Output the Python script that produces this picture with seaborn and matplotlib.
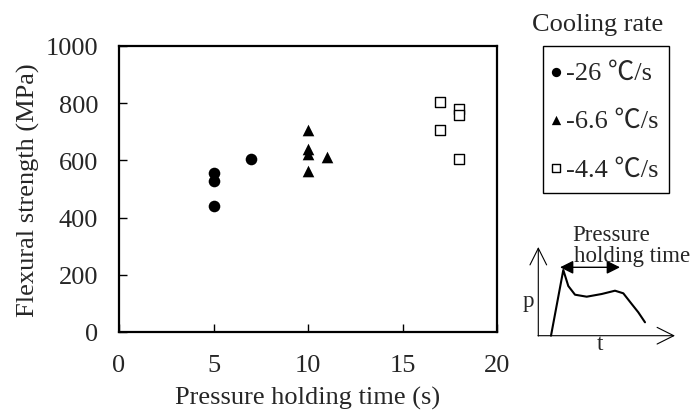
import numpy as np
import pandas as pd
import matplotlib
matplotlib.use("Agg")
import matplotlib.pyplot as plt
from matplotlib.patches import Rectangle
import seaborn as sns

# 데이터
rates = ["-26 ℃/s", "-6.6 ℃/s", "-4.4 ℃/s"]
time_26 = [5, 5, 5, 7]
str_26 = [555, 528, 441, 606]
time_66 = [10, 10, 10, 10, 11]
str_66 = [705, 641, 621, 563, 612]
time_44 = [17, 17, 18, 18, 18]
str_44 = [805, 706, 778, 758, 606]
xticks = [0, 5, 10, 15, 20]
yticks = [0, 200, 400, 600, 800, 1000]

# 압력 곡선 모식도 (픽셀 좌표)
curve_x = [551, 563.3, 568.3, 575, 586.7, 601.7, 615, 623.3, 631.7, 638.3, 645]
curve_y = [336.7, 271, 287, 295.7, 297.7, 295, 291.7, 294.3, 305, 313.3, 323.3]

sns.set_style("ticks")
plt.rcParams['font.family'] = ['Liberation Serif', 'Noto Sans CJK JP', 'DejaVu Serif']

W, H = 692, 414
fig = plt.figure(figsize=(W/100, H/100), dpi=100)
ax = fig.add_axes([119/W, 81/H, 378/W, 286/H])

sns.scatterplot(x=time_26, y=str_26, marker='o', s=70, color='black',
                edgecolor='black', linewidth=0, label=rates[0], ax=ax)
sns.scatterplot(x=time_66, y=str_66, marker='^', s=70, color='black',
                edgecolor='black', linewidth=0, label=rates[1], ax=ax)
sns.scatterplot(x=time_44, y=str_44, marker='s', s=45, facecolor='white',
                edgecolor='black', linewidth=1, label=rates[2], ax=ax)

ax.set_xlim(0, 20)
ax.set_ylim(0, 1000)
ax.set_xticks(xticks)
ax.set_yticks(yticks)
ax.tick_params(direction='in', length=6, width=1, labelsize=19, color='black')
ax.tick_params(axis='x', pad=16)
ax.tick_params(axis='y', pad=15)
for sp in ax.spines.values():
    sp.set_visible(True)
    sp.set_linewidth(1.6)
    sp.set_color('black')
ax.set_xlabel('Pressure holding time (s)', fontsize=19, labelpad=7)
ax.set_ylabel('Flexural strength (MPa)', fontsize=19, labelpad=4)

# 범례
fig.text(598/W, 1-25/H, 'Cooling rate', fontsize=19, ha='center', va='center')
leg = ax.legend(loc='upper left', bbox_to_anchor=(537.3/W, 1-49.5/H),
                bbox_transform=fig.transFigure, fontsize=19, frameon=False,
                borderaxespad=0, borderpad=0.45, handlelength=0.5,
                handletextpad=0.15, labelspacing=0.94, markerscale=0.8)
fig.add_artist(Rectangle((542.7/W, 1-194/H), (668.5-542.7)/W, (194-46.7)/H,
                         transform=fig.transFigure, fill=False, lw=1,
                         ec='black'))

# 모식도
ins = fig.add_axes([520/W, 0, 172/W, 1])
ins.set_xlim(520, 692)
ins.set_ylim(H, 0)
ins.axis('off')
ins.annotate('', xy=(538.3, 248), xytext=(538.3, 337),
             arrowprops=dict(arrowstyle='->', lw=0.8, color='black',
                             mutation_scale=30, shrinkA=0, shrinkB=0))
ins.annotate('', xy=(675, 336.7), xytext=(538, 336.7),
             arrowprops=dict(arrowstyle='->', lw=0.8, color='black',
                             mutation_scale=30, shrinkA=0, shrinkB=0))
sns.lineplot(x=curve_x, y=curve_y, color='black', lw=1.5, sort=False, ax=ins)
ins.annotate('', xy=(560, 268.3), xytext=(620, 268.3),
             arrowprops=dict(arrowstyle='<|-|>', lw=1, color='black',
                             mutation_scale=20, shrinkA=0, shrinkB=0))
ins.text(611, 236, 'Pressure', fontsize=16.5, ha='center', va='center')
ins.text(632, 257, 'holding time', fontsize=16.5, ha='center', va='center')
ins.text(528.5, 302, 'p', fontsize=16.5, ha='center', va='center')
ins.text(600, 345, 't', fontsize=16.5, ha='center', va='center')

fig.savefig('out.png', dpi=100)
